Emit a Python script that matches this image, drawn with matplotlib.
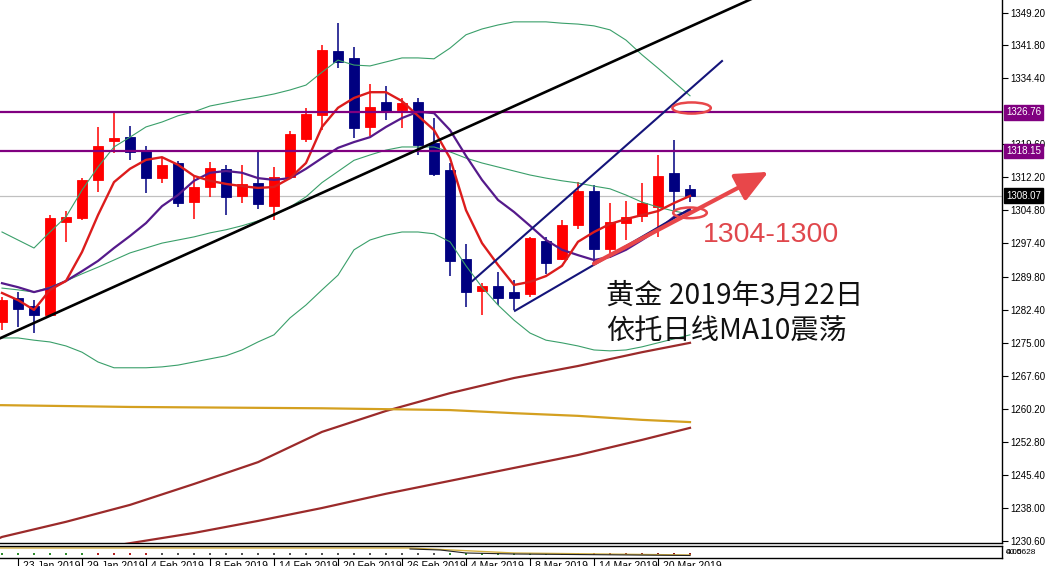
import matplotlib
matplotlib.use("Agg")
import matplotlib.pyplot as plt
from matplotlib.patches import Ellipse
from matplotlib.transforms import blended_transform_factory

# ---------------- data ----------------
opens  = [1279.7,1285.1,1283.3,1281.3,1302.1,1303.0,1311.6,1320.3,1321.2,1318.1,1312.0,1315.4,1306.6,1310.0,1314.1,1308.0,1310.9,1305.7,1312.3,1320.8,1326.2,1340.6,1339.0,1323.5,1329.1,1327.3,1329.1,1319.9,1313.8,1293.8,1286.6,1287.8,1286.4,1286.0,1297.9,1293.8,1301.5,1309.1,1296.1,1301.9,1303.5,1305.5,1313.2,1309.6]
highs  = [1285.3,1286.4,1284.6,1303.7,1304.6,1312.0,1323.5,1326.6,1323.7,1319.2,1316.7,1315.8,1312.7,1315.6,1315.0,1315.0,1318.3,1314.5,1322.6,1327.8,1341.9,1346.8,1341.5,1333.1,1332.7,1330.0,1330.0,1325.5,1315.4,1297.2,1288.4,1290.9,1289.1,1298.8,1298.8,1302.6,1311.1,1310.5,1306.4,1306.9,1310.9,1317.2,1320.6,1310.5]
lows   = [1277.9,1278.6,1277.2,1281.0,1297.7,1302.6,1308.9,1317.6,1316.1,1308.7,1310.9,1305.5,1302.8,1307.8,1303.7,1306.4,1305.1,1302.6,1312.0,1320.1,1322.8,1336.7,1321.0,1321.5,1325.1,1323.3,1317.2,1312.5,1290.0,1283.1,1281.3,1283.5,1282.4,1285.3,1290.5,1293.6,1300.6,1292.9,1294.1,1298.1,1302.1,1298.8,1304.8,1306.6]
closes = [1284.6,1282.6,1281.3,1303.0,1303.3,1311.6,1319.2,1321.0,1317.9,1312.0,1315.0,1306.4,1310.0,1314.3,1307.8,1310.7,1306.2,1312.3,1321.9,1326.4,1340.8,1338.1,1323.3,1328.0,1326.9,1328.9,1319.4,1312.9,1293.4,1286.4,1287.8,1285.1,1285.1,1298.6,1292.9,1301.5,1309.1,1296.1,1302.1,1303.3,1306.4,1312.5,1309.1,1308.0]

ma_fast = [1286.2,1284.6,1282.4,1286.9,1288.9,1295.4,1303.7,1311.1,1314.1,1316.1,1316.7,1315.0,1312.5,1311.4,1310.7,1310.2,1309.8,1310.0,1312.0,1315.4,1323.5,1327.8,1330.0,1331.3,1331.3,1329.3,1326.0,1322.8,1316.5,1304.8,1297.4,1292.5,1288.0,1288.7,1290.0,1292.3,1297.7,1299.9,1301.7,1302.8,1303.7,1304.6,1306.4,1308.0]
ma_slow = [1288.4,1287.5,1286.4,1287.3,1288.9,1291.1,1293.4,1296.3,1299.0,1301.9,1305.7,1308.2,1311.4,1313.2,1313.6,1313.2,1312.0,1311.6,1312.0,1314.1,1316.5,1318.8,1320.1,1321.2,1323.5,1325.5,1326.9,1326.6,1322.8,1317.0,1311.6,1307.1,1304.4,1301.3,1298.1,1295.9,1294.7,1293.6,1294.3,1295.9,1298.1,1300.4,1303.3,1304.8]

bb_upper = [1299.9,1298.1,1296.3,1299.9,1303.3,1309.3,1314.5,1319.0,1321.2,1323.5,1324.6,1326.0,1326.9,1328.2,1328.9,1329.6,1330.2,1330.9,1331.8,1332.9,1335.8,1338.5,1337.4,1337.2,1338.1,1339.0,1339.0,1338.8,1341.2,1344.2,1345.5,1346.4,1347.1,1347.1,1347.1,1346.8,1346.6,1346.2,1345.3,1343.0,1339.7,1336.7,1333.6,1330.5]
bb_mid   = [1287.3,1286.9,1286.4,1287.5,1288.9,1290.5,1292.0,1293.6,1295.2,1296.3,1297.4,1298.1,1298.8,1299.7,1300.4,1301.3,1302.4,1303.6,1305.5,1307.8,1311.0,1313.5,1316.0,1317.2,1318.3,1319.0,1319.0,1319.0,1317.9,1316.5,1315.4,1314.5,1313.6,1312.7,1312.0,1311.4,1310.9,1310.2,1309.6,1308.2,1306.6,1305.5,1304.6,1303.9]
bb_lower = [1276.1,1276.1,1275.6,1275.2,1274.3,1272.9,1270.7,1269.4,1269.4,1269.4,1269.6,1270.0,1270.7,1271.4,1272.1,1273.4,1275.2,1276.8,1280.6,1283.5,1286.9,1290.2,1295.9,1298.1,1299.2,1299.9,1299.9,1299.5,1297.7,1292.3,1287.5,1283.5,1280.1,1277.2,1275.6,1275.0,1274.3,1273.4,1273.2,1273.4,1274.1,1275.0,1275.9,1276.8]

long_idx  = [-0.125,0,4,8,12,16,20,24,28,32,36,40,43]
ma_brown1 = [1231.2,1231.4,1234.8,1238.6,1243.3,1248.2,1255.0,1259.7,1263.7,1267.1,1269.8,1272.9,1275.0]
ma_brown2 = [1225.0,1225.1,1227.6,1230.0,1232.3,1235.0,1237.9,1241.1,1244.0,1246.9,1249.8,1253.2,1255.9]
ma_gold   = [1261.0,1261.0,1260.8,1260.6,1260.5,1260.4,1260.3,1260.1,1259.9,1259.2,1258.6,1257.7,1257.2]

level_lines = [1326.76, 1318.15]
current_price = 1308.07

trend_black_x = [-1, 47];     trend_black_y = [1274.6, 1352.5]
chan_upper_x  = [29.4, 45.0]; chan_upper_y  = [1288.9, 1338.3]
chan_lower_x  = [32.06, 43.0]; chan_lower_y = [1282.2, 1305.1]
arrow_x = [37.0, 47.9]; arrow_y = [1292.8, 1313.4]
ellipses = [(43.1, 1327.75, 2.4, 2.5), (43.0, 1304.2, 2.1, 2.4)]

ytick_vals = [1349.20,1341.80,1334.40,1319.60,1312.20,1304.80,1297.40,1289.80,1282.40,1275.00,1267.60,1260.20,1252.80,1245.40,1238.00,1230.60]
date_idx = [1,5,9,13,17,21,25,29,33,37,41]
date_labels = ["23 Jan 2019","29 Jan 2019","4 Feb 2019","8 Feb 2019","14 Feb 2019","20 Feb 2019",
               "26 Feb 2019","4 Mar 2019","8 Mar 2019","14 Mar 2019","20 Mar 2019"]

# small indicator sub-window
sub_gold_x  = [-0.2, 25.5, 32, 43]; sub_gold_y  = [10, 10, 5, 3]
sub_black_x = [25.5, 27.4, 29, 32, 43]; sub_black_y = [9, 8, 5, 4, 2.5]
sub_dot_val = 4
sub_dot_colors = (['#2e8b2e']*6 + ['#b22222']*4 + ['#555555']*18 + ['#2e8b2e']*7 + ['#8b1a1a']*9)

title1 = "黄金 2019年3月22日"
title2 = "依托日线MA10震荡"
zone_text = "1304-1300"

# ---------------- figure ----------------
W, H = 1051, 566
fig = plt.figure(figsize=(W/100, H/100), dpi=100)
fig.patch.set_facecolor('white')
AX_R = 1002
AX_B = 543
ax = fig.add_axes([0, (H-AX_B)/H, AX_R/W, AX_B/H])
XMIN, XMAX = -0.125, (AX_R-2)/16
ax.set_xlim(XMIN, XMAX)
ax.set_ylim(1230.04, 1352.01)

BULL, BEAR = '#ff0000', '#000080'
for i, (o, h, l, c) in enumerate(zip(opens, highs, lows, closes)):
    col = BULL if c >= o else BEAR
    ax.vlines(i, l, h, color=col, lw=1.1, zorder=3)
    lo, hi = min(o, c), max(o, c)
    ax.bar(i, max(hi-lo, 0.2), bottom=lo, width=0.66, color=col, edgecolor=col, lw=0.6, zorder=3)

x = list(range(len(opens)))
bbc = '#3a9f6a'
ax.plot(x, bb_upper, color=bbc, lw=0.8, zorder=4)
ax.plot(x, bb_mid, color=bbc, lw=0.8, zorder=4)
ax.plot(x, bb_lower, color=bbc, lw=0.8, zorder=4)

ax.plot(long_idx, ma_brown1, color='#9b2a2a', lw=1.6, zorder=4)
ax.plot(long_idx, ma_brown2, color='#9b2a2a', lw=1.6, zorder=4)
ax.plot(long_idx, ma_gold, color='#d4a020', lw=1.6, zorder=4)

ax.plot(x, ma_slow, color='#551a8b', lw=1.6, zorder=5)
ax.plot(x, ma_fast, color='#dc1c1c', lw=1.7, zorder=5)

ax.axhline(current_price, color='#c0c0c0', lw=0.9, zorder=2)
for lv in level_lines:
    ax.axhline(lv, color='#800080', lw=1.6, zorder=6)

ax.plot(trend_black_x, trend_black_y, color='black', lw=1.9, zorder=6)
ax.plot(chan_upper_x, chan_upper_y, color='#14147a', lw=1.5, zorder=6)
ax.plot(chan_lower_x, chan_lower_y, color='#14147a', lw=1.5, zorder=6)

ax.annotate('', xy=(arrow_x[1], arrow_y[1]), xytext=(arrow_x[0], arrow_y[0]),
            arrowprops=dict(arrowstyle='-|>,head_length=1.1,head_width=0.5', lw=3.0,
                            color='#e8474a', mutation_scale=18, shrinkA=0, shrinkB=0),
            zorder=7)
for (cx, cy, w, h) in ellipses:
    ax.add_patch(Ellipse((cx, cy), w, h, fill=False, ec='#e8474a', lw=1.8, zorder=7))

for s in ['left', 'top']:
    ax.spines[s].set_visible(False)
ax.spines['right'].set_linewidth(1.0)
ax.spines['bottom'].set_linewidth(1.0)
ax.set_xticks([])
ax.yaxis.tick_right()
ax.set_yticks(ytick_vals)
ax.set_yticklabels([f"{v:.2f}" for v in ytick_vals], fontsize=7, family='Liberation Sans')
ax.tick_params(axis='y', direction='out', length=4, width=0.8, pad=2)

tr = blended_transform_factory(ax.transAxes, ax.transData)
box_specs = [(level_lines[0], '#800080'), (level_lines[1], '#800080'), (current_price, '#000000')]
for val, bg in box_specs:
    ax.text(1 + 4/AX_R, val, f"{val:.2f}", transform=tr, ha='left', va='center', fontsize=7,
            family='Liberation Sans', color='white', zorder=10, clip_on=False,
            bbox=dict(boxstyle='square,pad=0.22', fc=bg, ec=bg))

# annotations
def fx(px): return px / W
def fy(py): return 1 - py / H
fig.text(fx(703), fy(242), zone_text, color='#e0474c', fontsize=20.5, family='Liberation Sans', va='baseline')
cjk = ['Noto Sans CJK SC', 'DejaVu Sans']
fig.text(fx(606), fy(304), title1, color='#111111', fontsize=20.3, family=cjk, va='baseline')
fig.text(fx(606), fy(340), title2, color='#111111', fontsize=20.3, family=cjk, va='baseline')

# sub window
sub = fig.add_axes([0, (H-558)/H, AX_R/W, 12/H])
sub.set_xlim(XMIN, XMAX)
sub.set_ylim(0, 12)
sub.plot(sub_gold_x, sub_gold_y, color='#d4b040', lw=1.0)
sub.plot(sub_black_x, sub_black_y, color='#222222', lw=0.8)
sub.scatter(x, [sub_dot_val]*len(x), s=2.5, c=sub_dot_colors, marker='s', linewidths=0)
sub.set_xticks([]); sub.set_yticks([])
sub.spines['left'].set_visible(False)
for s in ['top', 'bottom', 'right']:
    sub.spines[s].set_linewidth(1.0)
sub.text(1 + 4/AX_R, 0.5, "0.00", transform=sub.transAxes, fontsize=6, va='center', family='Liberation Sans')
sub.text(1 + 4/AX_R, 0.5, "40.5628", transform=sub.transAxes, fontsize=6, va='center', family='Liberation Sans')

# date labels (cut by the bottom edge like the reference)
for i, lab in zip(date_idx, date_labels):
    xp = (i - XMIN) * (AX_R / (XMAX - XMIN))
    fig.add_artist(plt.Line2D([fx(xp), fx(xp)], [fy(559), fy(566)], color='black', lw=0.8))
    fig.text(fx(xp + 5), fy(561), lab, fontsize=7.5, family='Liberation Sans', va='top', ha='left')

fig.savefig('out.png', dpi=100)
